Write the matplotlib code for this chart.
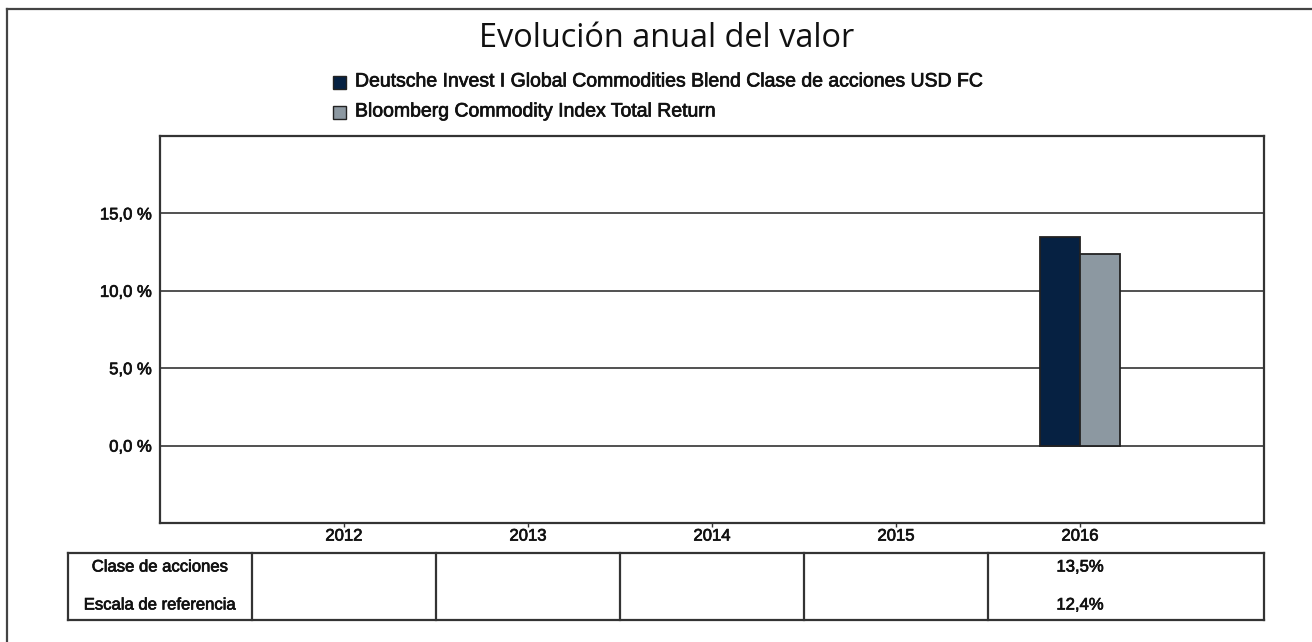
import matplotlib
matplotlib.use("Agg")
import matplotlib.pyplot as plt
from matplotlib.patches import Rectangle
from matplotlib.lines import Line2D
import matplotlib.transforms as mtransforms
import matplotlib.patheffects as pe

# ---- data ----
years = ["2012", "2013", "2014", "2015", "2016"]
fund_values = [None, None, None, None, 13.5]
bench_values = [None, None, None, None, 12.4]
series_names = ["Deutsche Invest I Global Commodities Blend Clase de acciones USD FC",
                "Bloomberg Commodity Index Total Return"]
row_labels = ["Clase de acciones", "Escala de referencia"]
yticks = [0, 5, 10, 15]
title = "Evolución anual del valor"

fund_color = "#062142"
bench_color = "#8c98a1"
line_color = "#333333"
text_color = "#111111"

W, H = 1312, 642
fig = plt.figure(figsize=(W / 100, H / 100), dpi=100)
fig.patch.set_facecolor("white")

def fx(px):
    return px / W

def fy(py):
    return 1 - py / H

FONT = "Liberation Sans"
heavy = [pe.withStroke(linewidth=0.5, foreground=text_color)]

# axes
left, right, top, bottom = 160, 1264, 136, 523
ax = fig.add_axes([fx(left), fy(bottom), (right - left) / W, (bottom - top) / H])
ax.set_xlim(-1, 5)
ax.set_ylim(-5, 20)

x = list(range(len(years)))
bw = 0.22
for i, (fv, bv) in enumerate(zip(fund_values, bench_values)):
    if fv is not None:
        ax.bar(i - bw / 2, fv, width=bw, color=fund_color, edgecolor="#222222",
               linewidth=1.3, zorder=3)
    if bv is not None:
        ax.bar(i + bw / 2, bv, width=bw, color=bench_color, edgecolor="#222222",
               linewidth=1.3, zorder=3)

for t in yticks:
    ax.axhline(t, color=line_color, linewidth=1.2, zorder=1)

ax.set_yticks(yticks)
ax.set_yticklabels([f"{t:.1f} %".replace(".", ",") for t in yticks],
                   fontfamily=FONT, fontsize=12, color=text_color)
ax.tick_params(axis="y", length=0, pad=6)
ax.set_xticks(x)
ax.set_xticklabels(years, fontfamily=FONT, fontsize=12, color=text_color)
ax.tick_params(axis="x", length=3, width=1, color=line_color, pad=1)
for lab in ax.get_yticklabels() + ax.get_xticklabels():
    lab.set_path_effects(heavy)
for s in ax.spines.values():
    s.set_color(line_color)
    s.set_linewidth(1.6)

# title
fig.text(fx(667), fy(47), title, ha="center", va="baseline",
         fontfamily="Open Sans", fontsize=23.4, color=text_color)

# legend
legend_colors = [fund_color, bench_color]
legend_y = [82, 112]
for name, col, yy in zip(series_names, legend_colors, legend_y):
    fig.patches.append(Rectangle((fx(333), fy(yy + 6.5)), 13 / W, 13 / H,
                                 transform=fig.transFigure, facecolor=col,
                                 edgecolor="#222222", linewidth=1.0))
    fig.text(fx(355), fy(yy), name, ha="left", va="center",
             fontfamily=FONT, fontsize=14, color=text_color, path_effects=heavy)

# table below axis: x in data coords, y in figure coords
trans = mtransforms.blended_transform_factory(ax.transData, fig.transFigure)
t_top, t_bot = 553, 620
xl, xr = -1.5, ax.get_xlim()[1]
for yy in (t_top, t_bot):
    fig.lines.append(Line2D([xl, xr], [fy(yy), fy(yy)], transform=trans,
                            color=line_color, linewidth=1.6))
vlines = [xl] + [i - 0.5 for i in x] + [xr]
for vx in vlines:
    fig.lines.append(Line2D([vx, vx], [fy(t_top), fy(t_bot)], transform=trans,
                            color=line_color, linewidth=1.6))
row_y = [567, 605]
for lbl, yy in zip(row_labels, row_y):
    fig.text(-1, fy(yy), lbl, transform=trans, ha="center", va="center",
             fontfamily=FONT, fontsize=12, color=text_color, path_effects=heavy)
for i, (fv, bv) in enumerate(zip(fund_values, bench_values)):
    for v, yy in zip((fv, bv), row_y):
        if v is not None:
            fig.text(i, fy(yy), f"{v:.1f}%".replace(".", ","), transform=trans,
                     ha="center", va="center", fontfamily=FONT, fontsize=12,
                     color=text_color, path_effects=heavy)

# outer frame (left and top)
fig.lines.append(Line2D([fx(7), fx(7)], [fy(9), 0], transform=fig.transFigure,
                        color="#444444", linewidth=1.6))
fig.lines.append(Line2D([fx(7), 1], [fy(9), fy(9)], transform=fig.transFigure,
                        color="#444444", linewidth=1.6))

fig.savefig("out.png", dpi=100)
